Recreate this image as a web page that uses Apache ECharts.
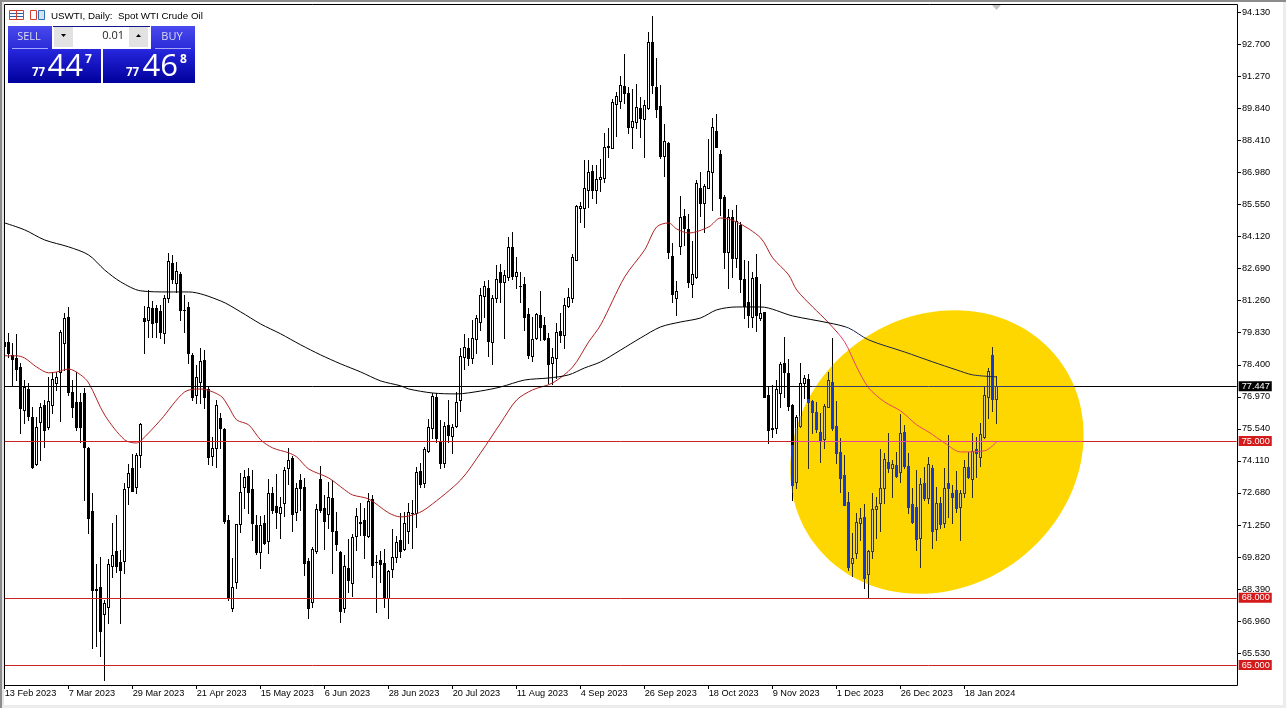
<!DOCTYPE html>
<html><head><meta charset="utf-8">
<style>html,body{margin:0;padding:0;background:#fff;overflow:hidden}#c{width:1286px;height:708px}</style>
<script src="https://cdn.jsdelivr.net/npm/echarts@6/dist/echarts.min.js"></script>
</head><body><div id="c"></div>
<script>
const xTickLabels=['13 Feb 2023','7 Mar 2023','29 Mar 2023','21 Apr 2023','15 May 2023','6 Jun 2023','28 Jun 2023','20 Jul 2023','11 Aug 2023','4 Sep 2023','26 Sep 2023','18 Oct 2023','9 Nov 2023','1 Dec 2023','26 Dec 2023','18 Jan 2024'];
const yTickLabels=[94.13,92.70,91.27,89.84,88.41,86.98,85.55,84.12,82.69,81.26,79.83,78.40,76.97,75.54,74.11,72.68,71.25,69.82,68.39,66.96,65.53];
const opens=[79.42,79.42,78.84,78.70,78.30,76.39,77.32,76.07,73.98,75.85,76.61,75.63,76.61,77.59,78.08,79.37,80.54,77.19,76.74,76.74,77.14,74.69,71.88,68.40,68.49,67.28,67.60,69.43,70.09,69.60,69.65,72.95,73.80,72.95,74.38,
80.49,80.40,80.94,80.94,80.80,79.82,81.38,82.95,82.05,82.45,80.85,80.98,78.84,77.06,77.64,78.62,77.32,74.33,74.69,76.03,75.54,71.48,67.55,68.71,71.30,72.95,73.44,72.86,71.25,70.05,71.34,70.54,72.68,72.10,71.79,72.24,73.80,74.24,71.83,73.26,72.95,69.65,67.82,70.09,73.31,72.01,71.75,72.46,70.99,70.05,67.55,69.34,68.67,70.76,71.34,71.48,70.76,72.41,69.60,69.69,69.56,68.00,69.29,69.83,70.59,70.18,70.99,71.79,71.79,73.66,73.13,74.56,75.58,76.97,74.96,74.02,75.72,75.23,75.67,76.83,78.75,79.15,78.70,79.55,80.31,81.47,81.83,79.42,81.38,82.54,82.10,82.32,83.66,82.37,81.92,82.01,80.67,78.80,79.60,80.63,80.18,79.60,78.48,78.70,79.91,79.73,81.03,81.38,83.08,85.40,85.40,86.20,87.05,86.20,86.69,86.74,88.17,88.08,90.04,90.17,90.84,90.53,89.01,89.24,89.86,89.37,89.86,92.81,90.80,89.95,87.72,88.30,83.26,81.38,83.70,85.04,84.46,82.01,82.32,86.29,85.62,86.29,87.01,88.83,87.81,85.89,83.44,85.00,83.17,84.64,82.23,81.20,80.54,82.32,80.49,80.76,77.06,75.58,75.58,77.14,78.48,78.03,76.61,73.17,75.67,77.59,77.77,76.79,76.30,75.40,75.09,76.52,77.64,75.67,74.51,73.49,72.28,69.56,70.01,71.34,71.61,69.07,70.09,71.97,72.24,72.91,74.07,73.80,73.93,73.62,75.40,73.89,72.19,72.06,70.67,73.13,72.46,73.80,71.08,72.24,71.34,73.13,72.68,72.82,72.06,72.68,73.84,73.31,74.65,74.29,75.18,76.97,78.84,76.88];
const closes=[79.24,78.93,78.66,78.21,76.47,77.41,76.12,73.84,75.63,76.52,75.49,76.79,77.77,77.86,79.87,80.49,77.19,76.52,75.63,75.63,74.73,71.57,68.35,68.35,66.52,67.77,69.51,69.92,69.43,69.25,72.86,73.57,72.77,74.38,75.76,
80.36,80.98,80.27,80.31,79.87,81.38,83.03,82.23,82.59,80.85,80.85,78.93,76.97,77.86,78.57,76.97,74.29,74.69,76.61,75.58,71.43,68.04,68.49,71.30,72.73,73.40,72.73,71.34,70.05,71.25,70.45,72.68,71.92,71.83,72.06,73.71,74.15,71.75,72.90,72.90,69.56,67.55,70.18,71.97,71.92,71.43,72.50,70.99,70.41,67.42,69.43,68.80,70.72,71.66,71.39,70.81,72.33,69.47,69.60,69.51,68.00,69.20,69.83,70.50,70.09,71.34,71.83,71.79,73.62,73.08,74.65,75.63,77.01,75.14,74.02,75.67,75.27,75.63,76.74,78.80,79.20,78.70,79.60,80.49,81.52,81.92,79.46,81.38,82.23,82.10,82.41,83.66,82.37,82.54,81.92,80.54,78.84,79.55,80.67,80.09,79.55,78.44,78.75,79.87,79.73,81.07,81.43,83.21,85.49,85.49,86.29,87.01,86.20,86.69,86.78,88.12,88.12,90.13,90.40,90.89,90.53,89.01,89.28,89.91,89.41,90.00,92.81,90.89,89.82,87.72,88.39,83.44,81.56,81.70,85.00,84.51,82.10,82.45,86.51,85.62,86.38,87.05,89.01,88.12,85.85,83.44,85.00,83.17,84.82,82.23,81.03,80.63,82.28,80.63,80.71,76.97,75.49,75.54,77.32,78.44,78.08,76.56,73.04,76.07,77.59,77.81,76.74,76.30,75.54,75.05,76.56,77.72,75.58,74.47,73.35,72.15,69.38,69.78,71.39,71.57,68.89,70.09,71.97,72.10,72.91,74.20,73.80,73.98,73.44,75.36,73.89,72.06,71.39,70.63,73.08,72.46,73.98,70.99,72.24,71.30,72.90,72.90,72.50,72.01,72.68,73.84,73.40,74.56,74.47,75.31,77.06,78.12,76.88,77.45];
const lows=[78.84,78.75,77.46,77.72,75.36,75.80,75.94,73.80,73.93,74.15,74.73,75.54,76.25,77.28,75.89,78.17,77.06,76.07,75.49,74.96,72.37,70.90,65.77,65.86,65.41,64.34,66.88,68.93,69.16,66.88,69.11,72.19,72.77,72.68,73.84,
78.93,79.64,79.64,79.64,79.60,79.37,81.20,82.05,81.65,80.40,79.87,78.48,76.83,76.70,76.70,76.47,73.98,73.93,73.84,74.69,71.34,67.91,67.42,68.44,70.94,72.01,71.79,70.59,69.96,69.34,70.41,70.01,71.79,71.12,70.67,71.66,73.08,70.99,71.48,71.92,69.02,67.10,67.60,70.01,71.83,70.18,71.12,69.11,70.14,66.93,67.37,68.26,68.09,70.14,70.81,69.78,70.72,68.93,67.37,68.71,67.60,67.10,68.93,69.60,69.83,70.14,70.45,70.23,71.16,72.95,72.95,74.51,75.14,74.96,73.80,73.84,74.96,74.47,75.63,76.34,78.21,78.39,78.48,78.93,79.96,80.54,78.80,78.44,81.20,81.20,79.60,82.19,82.23,81.83,81.20,79.96,78.70,78.57,79.55,79.51,79.51,77.59,77.54,77.81,79.42,79.15,80.98,81.20,83.08,84.77,84.55,85.44,85.85,85.62,86.16,86.56,87.67,88.08,88.61,89.86,90.08,88.75,88.08,88.97,88.57,87.67,89.82,90.53,89.46,87.63,86.83,83.17,81.20,80.63,83.35,83.75,81.87,81.43,82.28,85.04,84.33,86.29,85.31,88.12,85.09,82.72,81.83,82.32,82.77,81.63,80.49,80.09,80.09,79.91,80.40,76.97,74.91,75.18,75.36,76.52,76.97,76.39,72.37,72.90,75.63,76.92,73.80,75.36,75.40,74.07,74.69,76.52,75.49,74.02,72.73,72.15,69.25,68.98,69.78,70.59,68.44,68.00,69.78,70.67,70.99,72.24,73.62,72.50,73.40,73.17,73.80,71.79,71.34,70.14,69.38,72.37,72.24,70.23,70.59,71.12,71.16,71.61,71.34,71.83,70.59,72.50,73.35,72.50,73.40,73.89,75.14,76.03,76.34,75.80];
const highs=[79.82,79.82,79.37,79.78,78.48,77.72,77.59,76.52,76.07,76.70,76.83,77.86,78.08,78.08,79.96,80.71,80.98,77.72,78.08,77.14,77.37,74.73,72.68,69.51,69.83,67.91,69.74,71.34,71.70,70.14,73.13,73.98,74.42,74.47,75.80,
81.03,81.74,81.25,81.07,81.07,81.52,83.39,83.30,82.99,82.54,81.52,81.20,78.93,78.39,79.15,79.06,77.41,75.18,76.83,76.25,75.58,71.70,69.78,71.30,73.57,73.71,73.80,73.71,71.70,71.66,71.70,73.31,72.95,73.53,72.50,73.84,74.69,74.33,73.13,73.53,73.35,69.78,70.27,72.19,73.89,72.59,73.17,73.26,71.83,70.09,69.92,70.63,70.85,72.01,72.24,72.01,72.68,72.59,69.92,70.09,70.18,69.25,71.08,70.76,71.79,71.83,72.24,72.37,73.84,74.02,74.73,75.98,77.14,77.14,75.94,75.85,76.83,75.76,77.19,79.15,79.78,79.60,80.40,80.63,81.83,82.14,82.19,81.52,82.86,82.90,82.63,84.11,84.33,83.21,82.54,82.32,80.94,80.54,80.71,81.70,80.54,79.82,79.15,80.27,80.71,81.38,81.83,83.35,85.53,85.67,87.54,87.54,87.32,87.32,87.59,88.75,88.97,90.26,90.57,91.29,92.27,90.80,90.71,90.93,90.35,90.22,93.25,93.97,92.09,90.89,89.15,88.34,83.84,82.14,85.93,85.35,85.13,83.93,86.65,87.01,86.47,88.48,89.42,89.59,87.99,85.98,85.35,85.31,85.53,84.77,83.08,83.03,82.54,83.35,82.01,80.76,77.41,77.50,77.72,78.53,79.64,78.66,76.65,76.16,78.48,77.95,77.99,76.83,76.74,76.25,76.65,78.08,79.60,76.79,75.14,74.38,72.73,70.90,71.79,72.01,72.19,70.14,72.68,72.50,74.65,74.47,75.36,74.15,74.51,76.21,75.72,74.47,72.90,73.71,73.35,73.84,74.29,73.93,72.95,72.50,73.80,75.27,73.04,73.66,72.82,74.15,74.51,75.36,75.18,75.80,77.41,78.26,79.20,77.90];
const ma50Index=[0,3,5,8,11,13,16,19,21,25,30,33,34,39,45,49,54,56,58,61,64,67,71,73,76,81,85,87,91,96,99,103,106,114,119,124,128,132,137,142,146,149,155,160,163,166,168,171,176,179,183,189,192,196,198,202,206,210,213,216,220,224,228,231,235,239,245,248];
const ma50Values=[78.80,78.80,78.70,78.30,78.04,78.08,78.21,77.95,77.59,76.16,75.05,74.91,75.00,75.94,77.19,77.32,77.01,76.52,75.94,75.72,75.05,74.69,74.47,74.29,73.75,73.35,72.82,72.59,72.41,71.79,71.61,71.75,72.06,73.26,74.47,75.80,76.83,77.28,77.59,78.30,79.42,80.18,82.32,83.53,84.55,84.73,84.46,84.28,84.55,84.95,84.77,84.06,83.17,82.41,81.74,80.98,80.27,79.42,78.30,77.37,76.74,76.34,75.72,75.40,74.91,74.51,74.56,74.96];
const ma200Index=[0,5,10,16,21,25,29,34,41,46,54,59,64,69,74,79,84,89,94,99,101,107,113,119,124,130,136,141,145,149,154,159,164,169,174,178,183,189,197,206,211,216,225,232,238,242,248];
const ma200Values=[84.73,84.42,83.97,83.66,83.30,82.63,82.10,81.70,81.65,81.65,81.25,80.76,80.22,79.78,79.29,78.84,78.44,78.08,77.68,77.46,77.32,77.14,77.10,77.23,77.41,77.72,77.81,77.95,78.26,78.53,79.06,79.60,80.09,80.31,80.49,80.85,80.98,80.98,80.58,80.27,80.04,79.51,78.97,78.53,78.17,77.95,77.86];
const levels=[77.447,75,68,65];

const W=1286;
function band(out,inn,a,b){return {type:'linear',x:0,y:0,x2:W,y2:0,global:true,colorStops:[
 {offset:0,color:out},{offset:a/W,color:out},{offset:a/W,color:inn},{offset:b/W,color:inn},{offset:b/W,color:out},{offset:1,color:out}]};}
const total=309;
const categories=Array.from({length:total},(_,i)=>i%16===0&&xTickLabels[i/16]?xTickLabels[i/16]:'');
const isTick=i=>i%16===0&&i<=240;
const EL={cx:937,cy:452,rx:153,ry:135,rot:0.65};
function inEllipse(x,y){const dx=x-EL.cx,dy=y-EL.cy,co=Math.cos(EL.rot),si=Math.sin(EL.rot);
  const u=dx*co-dy*si,v=dx*si+dy*co;return (u*u)/(EL.rx*EL.rx)+(v*v)/(EL.ry*EL.ry)<1;}
function runs(x,y0,y1){const out=[];for(let y=y0;y<y1;y++){const ins=inEllipse(x+.5,y+.5);const l=out[out.length-1];
  if(l&&l[2]===ins)l[1]=y+1;else out.push([y,y+1,ins]);}return out;}
const candleRows=opens.map((o,i)=>[i,o,closes[i],lows[i],highs[i]]);
function renderCandle(p,api){
  const i=api.value(0),o=api.value(1),c=api.value(2),l=api.value(3),h=api.value(4);
  const X=Math.floor(api.coord([i,o])[0]);
  const yOf=v=>Math.round(api.coord([i,v])[1]);
  const yt=yOf(Math.max(o,c)),yb=yOf(Math.min(o,c))+1,yh=yOf(h),yl=yOf(l)+1;
  const kids=[];
  const rect=(x,y,w,hh,fill)=>kids.push({type:'rect',silent:true,shape:{x,y,width:w,height:hh},style:{fill}});
  runs(X,yh,yl).forEach(q=>rect(X,q[0],1,q[1]-q[0],q[2]?'#2c2c24':'#000'));
  const bull=c>=o;
  runs(X,yt,yb).forEach(q=>{
    rect(X-1,q[0],3,q[1]-q[0],bull?(q[2]?'#3c3c34':'#000'):(q[2]?'#1238d8':'#000'));
  });
  if(bull&&yb-yt>2) runs(X,yt+1,yb-1).forEach(q=>rect(X,q[0],1,q[1]-q[0],q[2]?'#c8c8c0':'#fff'));
  return {type:'group',children:kids};
}
const RED='#cc2222',PINK='#e8409a',FS='"Liberation Sans",Arial,sans-serif',PS='"Open Sans",sans-serif';
function hline(v,color,bg){return [{coord:[0,v],lineStyle:{color,width:1,type:'solid'},
   label:{show:true,position:'end',distance:2,formatter:v.toFixed(3),color:'#fff',backgroundColor:bg,padding:[1,2,0,3],fontSize:9.2,fontFamily:FS}},{coord:[308,v]}];}
const bluebtn=(a,b)=>({type:'linear',x:0,y:0,x2:0,y2:1,colorStops:[{offset:0,color:a},{offset:1,color:b}]});
const t=(x,y,text,fontSize,extra)=>({type:'text',x,y,z:110,silent:true,style:Object.assign({text,fontSize,fontFamily:PS,fill:'#fff',verticalAlign:'middle'},extra||{})});
const r=(x,y,w,h,fill,extra)=>({type:'rect',z:100,silent:true,shape:{x,y,width:w,height:h},style:Object.assign({fill},extra||{})});
const chart=echarts.init(document.getElementById('c'),null,{renderer:'canvas'});
chart.setOption({
 animation:false,backgroundColor:'#fff',
 grid:{left:2.67,right:1286-1238.67,top:5,bottom:708-685,show:false},
 xAxis:{type:'category',data:categories,boundaryGap:true,
  axisLine:{show:false},
  axisTick:{show:true,alignWithLabel:true,interval:(i)=>isTick(i),length:4,lineStyle:{color:'#000'}},
  axisLabel:{show:true,interval:(i)=>isTick(i),align:'left',margin:4,color:'#000',fontSize:9.2,fontFamily:FS,hideOverlap:false},
  splitLine:{show:false}},
 yAxis:{type:'value',position:'right',offset:-1.67,min:64.11,max:94.455,scale:true,
  axisLine:{show:false},
  axisTick:{show:true,length:4,customValues:yTickLabels,lineStyle:{color:'#000'}},
  axisLabel:{show:true,margin:5,color:'#000',fontSize:9.2,fontFamily:FS,customValues:yTickLabels,formatter:v=>v.toFixed(3)},
  splitLine:{show:false}},
 series:[
  {type:'custom',name:'USWTI',data:candleRows,renderItem:renderCandle,z:3,clip:false,encode:{x:0,y:[1,2,3,4]}},
  {type:'line',name:'MA50',data:ma50Index.map((k,i)=>[k,ma50Values[i]]),showSymbol:false,smooth:0.3,z:5,
   lineStyle:{width:1,color:band('#b02020','#e8406a',838,1100)},
   markLine:{silent:true,symbol:'none',animation:false,z:8,lineStyle:{type:'solid'},data:[
     hline(levels[0],band('#000','#34406c',812,1074),'#000'),
     hline(levels[1],band(RED,PINK,792,1083),'#d41a1a'),
     hline(levels[2],RED,'#d41a1a'),
     hline(levels[3],RED,'#d41a1a')]}},
  {type:'line',name:'MA200',data:ma200Index.map((k,i)=>[k,ma200Values[i]]),showSymbol:false,smooth:0.3,z:5,
   lineStyle:{width:1,color:band('#000','#1c2350',845,1100)}}
 ],
 graphic:{elements:[
  {type:'ellipse',x:EL.cx,y:EL.cy,rotation:EL.rot,z:0,silent:true,shape:{cx:0,cy:0,rx:EL.rx,ry:EL.ry},style:{fill:'#ffd700'}},
  {type:'polygon',z:20,silent:true,shape:{points:[[992,5],[1001,5],[996.5,10]]},style:{fill:'#c4c4c4'}},
  {type:'rect',z:50,silent:true,shape:{x:4.5,y:4.5,width:1233,height:681},style:{fill:'none',stroke:'#000',lineWidth:1}},
  r(0,0,1286,2,'#8c8c8c'),r(0,0,2,708,'#8c8c8c'),r(2,2,2,706,'#e4e4e4'),r(1283,2,3,706,'#ececec'),r(2,705,1284,3,'#ececec'),
  {type:'rect',z:100,silent:true,shape:{x:9.5,y:10.5,width:14,height:9},style:{fill:'#fff',stroke:'#d04030',lineWidth:1}},
  {type:'line',z:101,silent:true,shape:{x1:10,y1:13.5,x2:23,y2:13.5},style:{stroke:'#3060a0'}},
  {type:'line',z:101,silent:true,shape:{x1:10,y1:16.5,x2:23,y2:16.5},style:{stroke:'#3060a0'}},
  {type:'line',z:101,silent:true,shape:{x1:16.5,y1:11,x2:16.5,y2:19},style:{stroke:'#d04030'}},
  {type:'rect',z:100,silent:true,shape:{x:30.5,y:10.5,width:6,height:9},style:{fill:'#fff',stroke:'#d04030',lineWidth:1}},
  {type:'rect',z:100,silent:true,shape:{x:38.5,y:10.5,width:6,height:9},style:{fill:'#cfe4f4',stroke:'#2f6fb0',lineWidth:1}},
  t(51,16,'USWTI, Daily:  Spot WTI Crude Oil',9.8,{fill:'#000',fontFamily:FS}),
  r(8,26,44,23,bluebtn('#4a4aee','#2a2ad8')),
  r(151,26,44,23,bluebtn('#4a4aee','#2a2ad8')),
  r(8,48,93,35,bluebtn('#2828e0','#00009c')),
  r(103,48,92,35,bluebtn('#2828e0','#00009c')),
  r(52,48,99,1,'#fff'),
  r(53,26,97,1,'#14148c'),
  r(54,27,19,20,'#e2e2e2'),r(73,27,56,20,'#fff'),r(129,27,19,20,'#e2e2e2'),
  r(12,48,36,1,'#a8a8f8'),r(155,48,36,1,'#a8a8f8'),
  {type:'polygon',z:110,silent:true,shape:{points:[[61,34],[66,34],[63.5,37]]},style:{fill:'#000'}},
  {type:'polygon',z:110,silent:true,shape:{points:[[136,37],[141,37],[138.5,34]]},style:{fill:'#000'}},
  t(29,37,'SELL',11,{fill:'#dde',align:'center'}),
  t(172,37,'BUY',11,{fill:'#dde',align:'center'}),
  t(124,36,'0.01',11,{fill:'#222',align:'right'}),
  t(32,73,'77',11.5,{fontWeight:'bold'}),
  t(47.5,67,'44',31),
  t(85,60,'7',12,{fontWeight:'bold'}),
  t(126,73,'77',11.5,{fontWeight:'bold'}),
  t(142.5,67,'46',31),
  t(180,60,'8',12,{fontWeight:'bold'})
 ]}
});
</script></body></html>
